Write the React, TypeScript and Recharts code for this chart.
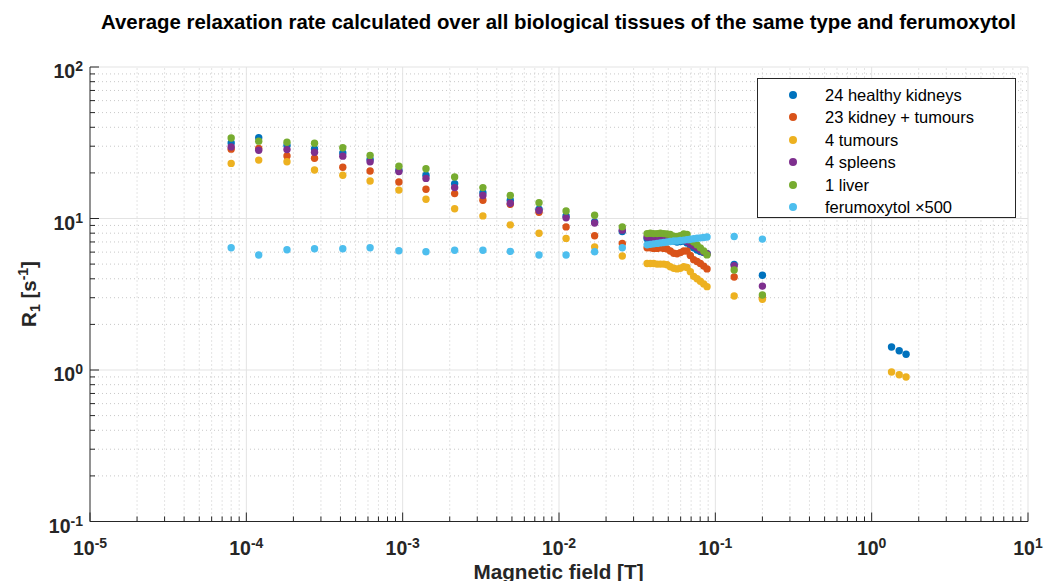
import React from 'react';
import { ScatterChart, Scatter, XAxis, YAxis, ReferenceLine } from 'recharts';

const FONT = '"Liberation Sans", Arial, Helvetica, sans-serif';

// Magnetic field values [T]
const fieldT = [
  8e-5, 1.2e-4, 1.82e-4, 2.73e-4, 4.14e-4, 6.19e-4, 9.46e-4, 1.41e-3, 2.15e-3, 3.26e-3,
  4.88e-3, 7.45e-3, 1.11e-2, 1.69e-2, 2.54e-2,
  0.0366, 0.0384, 0.0403, 0.0424, 0.0445, 0.0468, 0.0491, 0.0515, 0.0542, 0.0569,
  0.0597, 0.0628, 0.0659, 0.0692, 0.0727, 0.0764, 0.0802, 0.0843, 0.0885,
  0.132, 0.2,
  1.34, 1.5, 1.66,
];

const healthyKidneys = [
  31.5, 34.1, 30.3, 28.8, 27.1, 24.5, 20.8, 19.3, 17.0, 14.8,
  13.2, 11.5, 10.4, 9.5, 8.2,
  7.35, 7.35, 7.4, 7.35, 7.35, 7.3, 7.3, 7.2, 7.1, 7.0,
  7.05, 7.1, 6.9, 6.6, 6.4, 6.2, 6.05, 5.95, 5.85,
  4.98, 4.22,
  1.42, 1.34, 1.27,
];

const kidneyTumours = [
  28.7, 29.0, 25.9, 25.0, 21.8, 20.6, 17.4, 15.6, 14.6, 13.2,
  12.4, 11.0, 8.8, 7.69, 6.85,
  6.4, 6.4, 6.35, 6.35, 6.4, 6.35, 6.3, 6.1, 5.9, 5.85,
  5.95, 6.1, 6.1, 5.7, 5.35, 5.2, 5.05, 4.85, 4.65,
  4.11, 3.0,
  null, null, null,
];

const tumours = [
  23.1, 24.3, 23.7, 20.9, 19.3, 17.7, 15.4, 13.4, 11.6, 10.4,
  9.08, 8.0, 7.39, 6.5, 5.65,
  5.05, 5.05, 5.05, 5.0, 5.0, 5.0, 4.95, 4.8, 4.7, 4.65,
  4.7, 4.8, 4.75, 4.45, 4.15, 4.0, 3.85, 3.7, 3.55,
  3.08, 2.93,
  0.97, 0.93, 0.9,
];

const spleens = [
  29.7, 28.2, 28.5, 27.4, 25.8, 23.7, 20.4, 18.4, 16.0, 14.2,
  12.6, 11.3, 10.1, 9.33, 8.38,
  7.55, 7.55, 7.5, 7.5, 7.5, 7.45, 7.4, 7.35, 7.3, 7.25,
  7.3, 7.25, 7.05, 6.8, 6.6, 6.4, 6.2, 6.0, 5.85,
  4.88, 3.58,
  null, null, null,
];

const liver = [
  34.0, 32.4, 31.9, 31.4, 29.3, 26.1, 22.1, 21.3, 18.8, 16.0,
  14.2, 12.7, 11.2, 10.5, 8.81,
  7.95, 8.0, 7.95, 7.95, 8.0, 7.95, 7.9, 7.85, 7.65, 7.6,
  7.7, 7.9, 7.85, 7.2, 7.0, 6.7, 6.4, 6.1, 5.75,
  4.57, 3.13,
  null, null, null,
];

const ferumoxytol = [
  6.41, 5.74, 6.22, 6.31, 6.31, 6.41, 6.12, 6.03, 6.17, 6.17,
  6.07, 5.74, 5.74, 6.03, 6.41,
  6.7, 6.75, 6.8, 6.85, 6.9, 6.95, 7.0, 7.05, 7.1, 7.1,
  7.15, 7.2, 7.25, 7.3, 7.35, 7.4, 7.45, 7.5, 7.55,
  7.6, 7.31,
  null, null, null,
];

const seriesNames = ['24 healthy kidneys', '23 kidney + tumours', '4 tumours', '4 spleens', '1 liver', 'ferumoxytol'];
const seriesColors = ['#0072BD', '#D95319', '#EDB120', '#7E2F8E', '#77AC30', '#4DBEEE'];
const seriesValues = [healthyKidneys, kidneyTumours, tumours, spleens, liver, ferumoxytol];

const xMajorTicks = [1e-5, 1e-4, 1e-3, 1e-2, 1e-1, 1, 10];
const xTickExponents = ['-5', '-4', '-3', '-2', '-1', '0', '1'];
const yMajorTicks = [0.1, 1, 10, 100];
const yTickExponents = ['-1', '0', '1', '2'];
const minorMultipliers = [2, 3, 4, 5, 6, 7, 8, 9];

const minorOf = (majors: number[]) =>
  majors.slice(0, -1).flatMap((m) => minorMultipliers.map((k) => m * k));

const xMinorTicks = minorOf(xMajorTicks);
const yMinorTicks = minorOf(yMajorTicks);

const AXIS = '#262626';

const majorIndex = (majors: number[], v: number) =>
  majors.findIndex((m) => Math.abs(m - v) / m < 1e-6);

function XTick(props: any) {
  const { x, y, payload } = props;
  const idx = majorIndex(xMajorTicks, payload.value);
  const major = idx >= 0;
  return (
    <g>
      <line x1={x} x2={x} y1={y} y2={y - (major ? 9 : 5)} stroke={AXIS} strokeWidth={1} />
      {major && (
        <text x={x} y={y + 33} textAnchor="middle" fontFamily={FONT} fontWeight="bold" fontSize={19.5} fill={AXIS}>
          <tspan>10</tspan>
          <tspan dy={-7} fontSize={14}>{xTickExponents[idx]}</tspan>
        </text>
      )}
    </g>
  );
}

function YTick(props: any) {
  const { x, y, payload } = props;
  const idx = majorIndex(yMajorTicks, payload.value);
  const major = idx >= 0;
  return (
    <g>
      <line x1={x} x2={x + (major ? 9 : 5)} y1={y} y2={y} stroke={AXIS} strokeWidth={1} />
      {major && (
        <text x={x - 7} y={y + 11} textAnchor="end" fontFamily={FONT} fontWeight="bold" fontSize={19.5} fill={AXIS}>
          <tspan>10</tspan>
          <tspan dy={-7} fontSize={14}>{yTickExponents[idx]}</tspan>
        </text>
      )}
    </g>
  );
}

const makeDot = (color: string) => (props: any) => {
  const { cx, cy } = props;
  if (cx == null || cy == null) return <g />;
  return <circle cx={cx} cy={cy} r={3.7} fill={color} />;
};

export default function App() {
  const seriesData = seriesValues.map((vals) =>
    fieldT
      .map((x, i) => ({ x, y: vals[i] }))
      .filter((d) => d.y !== null && d.y !== undefined)
  );

  return (
    <div style={{ position: 'absolute', left: 0, top: 0, width: 1045, height: 581, background: '#fff', fontFamily: FONT }}>
      <div
        style={{
          position: 'absolute', left: 90, width: 937, top: 10, textAlign: 'center',
          fontWeight: 'bold', fontSize: 20.4, lineHeight: '24px', color: '#000', whiteSpace: 'nowrap',
        }}
      >
        Average relaxation rate calculated over all biological tissues of the same type and ferumoxytol
      </div>

      <ScatterChart width={1045} height={581} margin={{ top: 67, right: 17, bottom: 0, left: 30 }}>
        <XAxis
          type="number"
          dataKey="x"
          scale="log"
          domain={[1e-5, 10]}
          allowDataOverflow
          ticks={[...xMajorTicks, ...xMinorTicks]}
          interval={0}
          tick={<XTick />}
          tickLine={false}
          tickSize={0}
          tickMargin={0}
          axisLine={{ stroke: AXIS, strokeWidth: 1 }}
          height={59.5}
        />
        <YAxis
          type="number"
          dataKey="y"
          scale="log"
          domain={[0.1, 100]}
          allowDataOverflow
          ticks={[...yMajorTicks, ...yMinorTicks]}
          interval={0}
          tick={<YTick />}
          tickLine={false}
          tickSize={0}
          tickMargin={0}
          axisLine={{ stroke: AXIS, strokeWidth: 1 }}
          width={60}
        />
        {xMinorTicks.map((v) => (
          <ReferenceLine key={'xm' + v} x={v} stroke="#c8c8c8" strokeWidth={1} strokeDasharray="1 3" />
        ))}
        {yMinorTicks.map((v) => (
          <ReferenceLine key={'ym' + v} y={v} stroke="#c8c8c8" strokeWidth={1} strokeDasharray="1 3" />
        ))}
        {xMajorTicks.slice(1).map((v) => (
          <ReferenceLine key={'xM' + v} x={v} stroke="#e3e3e3" strokeWidth={1} />
        ))}
        {yMajorTicks.slice(1).map((v) => (
          <ReferenceLine key={'yM' + v} y={v} stroke="#e3e3e3" strokeWidth={1} />
        ))}
        {seriesData.map((d, i) => (
          <Scatter
            key={seriesNames[i]}
            name={seriesNames[i]}
            data={d}
            fill={seriesColors[i]}
            shape={makeDot(seriesColors[i])}
            isAnimationActive={false}
          />
        ))}
      </ScatterChart>

      <div
        style={{
          position: 'absolute', left: 0, top: 560, width: 1117, textAlign: 'center',
          fontWeight: 'bold', fontSize: 20.7, color: AXIS, whiteSpace: 'nowrap', lineHeight: '24px',
        }}
      >
        Magnetic field [T]
      </div>

      <div
        style={{
          position: 'absolute', left: 29, top: 294, width: 0, height: 0,
        }}
      >
        <div
          style={{
            position: 'absolute', left: 0, top: 0, transform: 'translate(-50%, -50%) rotate(-90deg)',
            fontWeight: 'bold', fontSize: 20.5, color: AXIS, whiteSpace: 'nowrap', lineHeight: '24px',
          }}
        >
          R<sub style={{ fontSize: 14, verticalAlign: '-4px' }}>1</sub> [s<sup style={{ fontSize: 14, verticalAlign: '8px' }}>-1</sup>]
        </div>
      </div>

      <div
        style={{
          position: 'absolute', left: 757, top: 78, width: 259, height: 140,
          border: '1px solid #262626', background: '#fff', boxSizing: 'border-box',
        }}
      >
        {seriesNames.map((n, i) => (
          <div
            key={n}
            style={{
              position: 'absolute', left: 0, top: 4.5 + i * 22.5, height: 22, width: 259,
              fontSize: 16.5, lineHeight: '22px', color: '#000', whiteSpace: 'nowrap',
            }}
          >
            <span
              style={{
                position: 'absolute', left: 31, top: 7, width: 8, height: 8, borderRadius: '50%',
                background: seriesColors[i],
              }}
            />
            <span style={{ position: 'absolute', left: 67, top: 0 }}>
              {n}
              {i === 5 ? <span> {'\u00d7'}500</span> : null}
            </span>
          </div>
        ))}
      </div>
    </div>
  );
}
